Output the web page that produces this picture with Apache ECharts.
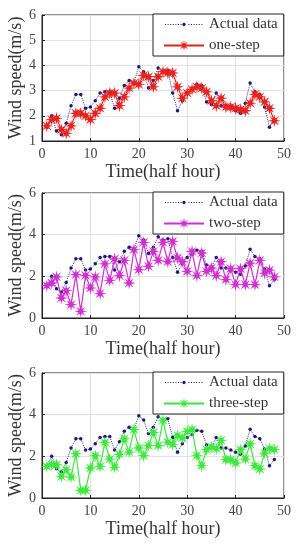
<!DOCTYPE html>
<html><head><meta charset="utf-8">
<script src="https://cdn.jsdelivr.net/npm/echarts@6/dist/echarts.min.js"></script>
<style>html,body{margin:0;padding:0;background:#fff}#c{width:296px;height:550px}</style>
</head><body><div id="c"></div>
<script>
// ---- data ----
const timeSteps = [1,2,3,4,5,6,7,8,9,10,11,12,13,14,15,16,17,18,19,20,21,22,23,24,25,26,27,28,29,30,31,32,33,34,35,36,37,38,39,40,41,42,43,44,45,46,47,48];
const actualData = [1.55,2.0,1.4,1.25,1.7,2.4,2.85,2.85,2.3,2.35,2.6,2.9,2.95,2.95,2.3,2.7,3.2,3.4,3.3,3.95,3.75,3.1,3.4,3.9,3.75,3.8,2.9,2.2,2.6,2.9,3.05,3.25,3.2,2.55,2.45,2.9,2.4,2.4,2.3,2.2,2.1,2.5,3.3,2.95,2.85,2.35,1.55,1.85];
const oneStep = [1.6,1.85,1.9,1.45,1.3,1.6,2.1,2.1,2.0,1.85,2.1,2.3,2.75,2.9,2.9,2.4,2.75,3.1,3.3,3.25,3.6,3.55,3.15,3.55,3.75,3.7,3.7,3.15,2.7,2.9,3.05,3.15,3.1,2.95,2.6,2.4,2.7,2.35,2.35,2.3,2.25,2.2,2.5,2.85,2.75,2.55,2.3,1.8];
const twoStep = [1.55,1.68,1.97,0.96,1.31,0.64,2.08,0.32,2.05,1.44,1.97,1.17,2.6,1.81,2.84,2.03,2.77,1.68,3.28,2.32,3.63,2.48,3.2,2.77,3.63,2.7,3.68,2.88,2.7,2.24,3.2,2.03,3.12,2.24,2.4,2.03,2.7,1.84,2.37,1.6,2.37,1.6,2.63,1.6,2.77,2.15,2.3,1.97];
const threeStep = [1.52,1.6,1.6,1.04,1.36,1.0,2.13,0.37,0.37,1.44,2.03,1.52,2.67,1.87,1.48,2.09,2.84,2.2,3.28,2.4,2.03,2.51,3.15,2.51,3.73,2.68,2.57,3.0,2.88,3.2,3.28,2.03,1.55,2.32,2.45,2.37,2.77,1.84,1.84,1.68,2.32,1.87,2.6,1.55,1.39,2.15,2.37,2.32];
const xTicks = [0,10,20,30,40,50];
const yTicksTop = [1,2,3,4,5,6];
const yTicksLower = [0,2,4,6];
const predNames = ['one-step','two-step','three-step'];
const predColors = ['#e8231f','#d030d0','#3ee83e'];
const xName = 'Time(half hour)';
const yName = 'Wind speed(m/s)';

// ---- styling helpers ----
const FONT = '"Liberation Serif", "DejaVu Serif", serif';
function starPath(){
  let p = [];
  for (let k=0;k<16;k++){
    const a = k*Math.PI/8 - Math.PI/2;
    const r = (k%2===0) ? 10 : 3.6;
    p.push((k===0?'M':'L') + (r*Math.cos(a)).toFixed(2) + ',' + (r*Math.sin(a)).toFixed(2));
  }
  return 'path://' + p.join(' ') + ' Z';
}
const STAR = starPath();
// legend icon: dotted line with a small dot in the middle (40 x 14 box)
function dotLineIcon(){
  let p = ['M-20,-7', 'M20,7'];
  for (let x=-19; x<=18; x+=2.6){
    if (Math.abs(x) < 3) continue;
    p.push('M'+x.toFixed(2)+',-0.5 L'+(x+1).toFixed(2)+',-0.5 L'+(x+1).toFixed(2)+',0.5 L'+x.toFixed(2)+',0.5 Z');
  }
  for (let k=0;k<12;k++){
    const a = k*Math.PI/6;
    p.push((k===0?'M':'L') + (1.7*Math.cos(a)).toFixed(2) + ',' + (1.7*Math.sin(a)).toFixed(2));
  }
  return 'path://' + p.join(' ') + ' Z';
}
const DOT_ICON = dotLineIcon();
const pairs = arr => timeSteps.map((t,i)=>[t, arr[i]]);

const tops = [15, 193, 373];
const heights = [126, 125, 125];
const grids = tops.map((t,i)=>({left:42, width:242, top:t, height:heights[i], containLabel:false, outerBoundsMode:'none', show:true, borderColor:'#222', borderWidth:1, backgroundColor:'#fff'}));

const xAxes = tops.map((t,i)=>({
  type:'value', gridIndex:i, min:xTicks[0], max:xTicks[xTicks.length-1], interval:10,
  name:xName, nameLocation:'middle', nameGap:22,
  nameTextStyle:{fontFamily:FONT, fontSize:18, color:'#333'},
  axisLine:{show:true, lineStyle:{color:'#222', width:1}},
  axisTick:{show:true, inside:true, length:3, lineStyle:{color:'#222'}},
  axisLabel:{fontFamily:FONT, fontSize:14, color:'#444', margin:6},
  splitLine:{show:true, lineStyle:{color:'#e2e2e2', width:1}}
}));
const yAxes = tops.map((t,i)=>{
  const tk = i===0 ? yTicksTop : yTicksLower;
  return {
    type:'value', gridIndex:i, min:tk[0], max:tk[tk.length-1], interval: tk[1]-tk[0],
    name:yName, nameLocation:'middle', nameGap:17, nameMoveOverlap:false,
    nameTextStyle:{fontFamily:FONT, fontSize:18, color:'#333'},
    axisLine:{show:true, lineStyle:{color:'#222', width:1}},
    axisTick:{show:true, inside:true, length:3, lineStyle:{color:'#222'}},
    axisLabel:{fontFamily:FONT, fontSize:14, color:'#444', margin:6},
    splitLine:{show:true, lineStyle:{color:'#e2e2e2', width:1}}
  };
});

const preds = [oneStep, twoStep, threeStep];
const series = [];
tops.forEach((t,i)=>{
  series.push({
    name:'Actual data', type:'line', xAxisIndex:i, yAxisIndex:i, data:pairs(actualData),
    symbol:'circle', symbolSize:3.5, showSymbol:true,
    lineStyle:{type:'dotted', color:'#3535a8', width:1},
    itemStyle:{color:'#1a1a78'}, animation:false, z:2
  });
  series.push({
    name:predNames[i], type:'line', xAxisIndex:i, yAxisIndex:i, data:pairs(preds[i]),
    symbol:STAR, symbolSize:13, showSymbol:true,
    lineStyle:{color:predColors[i], width:1.2},
    itemStyle:{color:predColors[i]}, animation:false, z:3
  });
});

const legends = tops.map((t,i)=>({
  left:153, top:t-1, orient:'vertical',
  data:[{name:'Actual data', icon:DOT_ICON}, predNames[i]],
  borderColor:'#222', borderWidth:1, backgroundColor:'#fff',
  padding:[3,6,3,10], itemWidth:40, itemHeight:14, itemGap:6,
  textStyle:{fontFamily:FONT, fontSize:15, color:'#333'},
  selectedMode:false
}));

const chart = echarts.init(document.getElementById('c'), null, {renderer:'canvas'});
chart.setOption({
  animation:false,
  backgroundColor:'#fff',
  grid:grids, xAxis:xAxes, yAxis:yAxes, legend:legends, series:series
});
</script>
</body></html>
